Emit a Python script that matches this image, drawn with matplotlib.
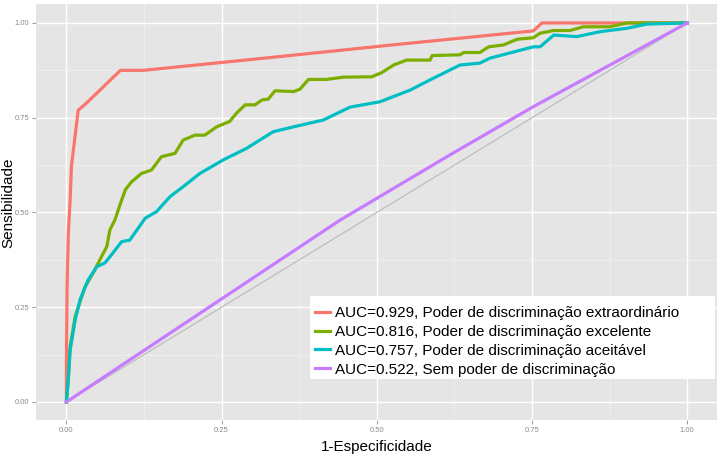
import numpy as np
import matplotlib.pyplot as plt
from matplotlib.ticker import MultipleLocator
from matplotlib.patches import Rectangle

plt.rcParams['font.family'] = ['Liberation Sans', 'DejaVu Sans']

# ROC curves (1-especificidade, sensibilidade)
red_x = [0, 0, 0.001, 0.003, 0.006, 0.008, 0.019, 0.03, 0.087, 0.124, 0.3, 0.537, 0.752, 0.766, 1.0]
red_y = [0, 0.1, 0.3, 0.445, 0.533, 0.621, 0.770, 0.785, 0.875, 0.875, 0.904, 0.944, 0.979, 1.0, 1.0]

green_x = [0, 0.003, 0.006, 0.014, 0.03, 0.043, 0.051, 0.065, 0.070, 0.078, 0.089, 0.095, 0.105,
           0.121, 0.137, 0.153, 0.175, 0.188, 0.207, 0.223, 0.242, 0.263, 0.274, 0.288,
           0.304, 0.315, 0.325, 0.336, 0.366, 0.376, 0.390, 0.419, 0.446, 0.492, 0.508,
           0.527, 0.548, 0.586, 0.589, 0.634, 0.640, 0.666, 0.680, 0.704, 0.726, 0.752,
           0.763, 0.785, 0.811, 0.833, 0.876, 0.903, 1.0]
green_y = [0, 0.06, 0.146, 0.225, 0.304, 0.340, 0.366, 0.41, 0.454, 0.48, 0.533, 0.56, 0.581,
           0.603, 0.612, 0.647, 0.656, 0.691, 0.704, 0.704, 0.726, 0.740, 0.762, 0.784,
           0.784, 0.797, 0.799, 0.821, 0.819, 0.825, 0.851, 0.851, 0.857, 0.858, 0.869,
           0.889, 0.902, 0.902, 0.914, 0.916, 0.922, 0.922, 0.937, 0.942, 0.957, 0.961,
           0.973, 0.980, 0.980, 0.990, 0.990, 1.0, 1.0]

cyan_x = [0, 0.003, 0.006, 0.014, 0.022, 0.035, 0.049, 0.062, 0.070, 0.089, 0.102, 0.127, 0.145,
          0.167, 0.188, 0.215, 0.253, 0.290, 0.333, 0.366, 0.414, 0.457, 0.505, 0.554,
          0.586, 0.634, 0.666, 0.682, 0.752, 0.763, 0.785, 0.822, 0.860, 0.903, 0.935, 1.0]
cyan_y = [0, 0.06, 0.137, 0.216, 0.27, 0.322, 0.357, 0.367, 0.383, 0.423, 0.427, 0.485, 0.502,
          0.542, 0.568, 0.603, 0.639, 0.669, 0.713, 0.726, 0.744, 0.778, 0.792, 0.823,
          0.850, 0.889, 0.894, 0.907, 0.937, 0.937, 0.968, 0.964, 0.977, 0.986, 0.997, 1.0]

purple_x = [0, 0.215, 0.441, 0.618, 0.752, 1.0]
purple_y = [0, 0.234, 0.48, 0.652, 0.779, 1.0]

labels = ["AUC=0.929, Poder de discriminação extraordinário",
          "AUC=0.816, Poder de discriminação excelente",
          "AUC=0.757, Poder de discriminação aceitável",
          "AUC=0.522, Sem poder de discriminação"]
colors = ["#F8766D", "#7CAE00", "#00BFC4", "#C77CFF"]

W, H = 724, 462
fig = plt.figure(figsize=(W / 100, H / 100), dpi=100)
ax = fig.add_axes([36 / W, 1 - 420 / H, (717 - 36) / W, (420 - 4) / H])
ax.set_facecolor("#E5E5E5")

ax.plot([0, 1], [0, 1], color="#BDBDBD", lw=0.9, zorder=2)
curves = [(red_x, red_y), (green_x, green_y), (cyan_x, cyan_y), (purple_x, purple_y)]
for (x, y), c, lab in zip(curves, colors, labels):
    ax.plot(x, y, color=c, lw=2.3, label=lab, zorder=3, solid_joinstyle="round")

ax.set_xlim(-0.049, 1.048)
ax.set_ylim(-0.0475, 1.05)
ax.xaxis.set_major_locator(MultipleLocator(0.25))
ax.yaxis.set_major_locator(MultipleLocator(0.25))
ax.xaxis.set_minor_locator(MultipleLocator(0.125))
ax.yaxis.set_minor_locator(MultipleLocator(0.125))
ax.grid(which="major", color="white", lw=1.0)
ax.grid(which="minor", color="#F2F2F2", lw=0.5)
ax.set_axisbelow(True)
for s in ax.spines.values():
    s.set_visible(False)
ax.tick_params(which="major", length=3, width=0.6, color="#888888",
               labelsize=5.5, labelcolor="#8A8A8A", pad=2)
ax.tick_params(which="minor", length=0)
ax.xaxis.set_major_formatter(plt.FuncFormatter(lambda v, p: f"{v:.2f}"))
ax.yaxis.set_major_formatter(plt.FuncFormatter(lambda v, p: f"{v:.2f}"))

ax.set_xlabel("1-Especificidade", fontsize=11, labelpad=4)
ax.set_ylabel("Sensibilidade", fontsize=11, va="center")
ax.yaxis.set_label_coords((8 - 36) / (717 - 36), (420 - 203) / (420 - 4))

# white legend box (wider on the right, as in ggplot)
ax.add_patch(Rectangle((310 / W, 1 - 379 / H), (715 - 310) / W, (379 - 296) / H,
                       transform=fig.transFigure, facecolor="white",
                       edgecolor="none", zorder=4))
leg = ax.legend(loc="upper left", bbox_to_anchor=(315 / W, 1 - 306 / H),
                bbox_transform=fig.transFigure, fontsize=11, frameon=False,
                handlelength=1.0, handletextpad=0.33, labelspacing=0.32,
                borderpad=0, borderaxespad=0)
leg.set_zorder(5)
for line in leg.get_lines():
    line.set_linewidth(2.3)

plt.savefig("out.png", dpi=100)
